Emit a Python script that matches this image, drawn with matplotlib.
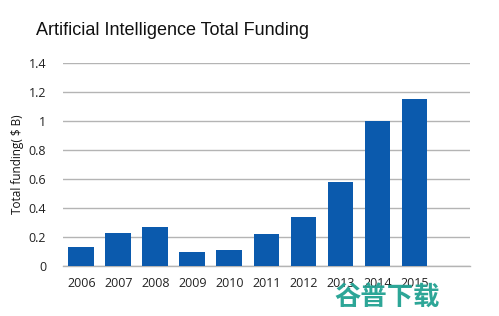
import numpy as np
import matplotlib
matplotlib.use("Agg")
import matplotlib.pyplot as plt

# data
years = ['2006', '2007', '2008', '2009', '2010', '2011', '2012', '2013', '2014', '2015']
funding = [0.13, 0.23, 0.27, 0.10, 0.11, 0.22, 0.34, 0.58, 1.00, 1.15]
yticks = [0, 0.2, 0.4, 0.6, 0.8, 1, 1.2, 1.4]
ytick_labels = ['0', '0.2', '0.4', '0.6', '0.8', '1', '1.2', '1.4']

bar_color = '#0b5aad'
grid_color = '#b4b4b4'

fig = plt.figure(figsize=(4.99, 3.16), dpi=100)
ax = fig.add_axes([0.126, 0.158, 0.816, 0.643])

x = np.arange(len(years))
ax.bar(x, funding, width=0.7, color=bar_color, zorder=3)

# one empty slot after 2015, as in the original
ax.set_xlim(-0.5, len(years) + 0.5)
ax.set_ylim(0, 1.4)

ax.set_yticks(yticks)
ax.set_yticklabels(ytick_labels)
ax.set_xticks(x)
ax.set_xticklabels(years)

ax.yaxis.grid(True, color=grid_color, linewidth=1.0, zorder=0)
for s in ['top', 'right', 'left']:
    ax.spines[s].set_visible(False)
ax.spines['bottom'].set_color(grid_color)
ax.spines['bottom'].set_linewidth(1.0)
ax.tick_params(axis='both', length=0, labelsize=9, colors='#222222')
ax.tick_params(axis='y', pad=12)
ax.tick_params(axis='x', pad=8)
for lab in ax.get_xticklabels() + ax.get_yticklabels():
    lab.set_family('Open Sans')

ax.set_ylabel('Total funding( $ B)', fontsize=8.5, family='Open Sans', color='#111111', labelpad=3)

fig.text(0.072, 0.905, 'Artificial Intelligence Total Funding', fontsize=13,
         family='Liberation Sans', color='#111111', va='center', ha='left')

# watermark in the lower right corner
fig.text(0.776, 0.058, '谷普下载', fontsize=19, fontweight='bold',
         family=['Noto Sans CJK SC', 'DejaVu Sans'], color='#21a192',
         ha='center', va='center', alpha=0.95)

fig.savefig('out.png', dpi=100)
